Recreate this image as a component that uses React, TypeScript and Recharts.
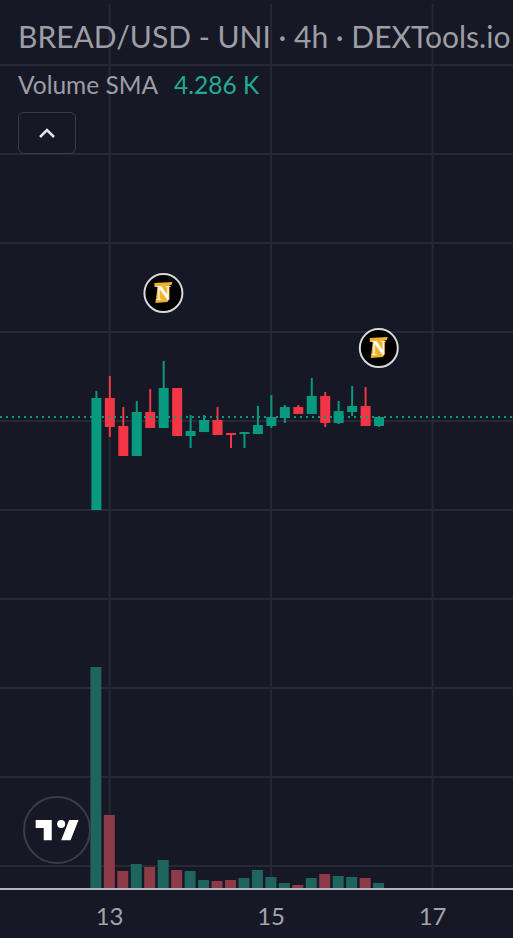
import { Bar, CartesianGrid, Cell, ComposedChart, ReferenceDot, ReferenceLine, XAxis, YAxis } from 'recharts';

const GREEN = '#089981';
const RED = '#f23645';
const VOL_GREEN = '#1f655f';
const VOL_RED = '#8f3a49';
const BG = '#161825';
const GRID = '#262833';
const TEXT = '#9d9ea5';
const FONT = 'Lato, sans-serif';

// 4h candles, price in chart units since the price scale is not visible
const opens = [40, 52.58, 49.44, 46.07, 51.01, 49.21, 53.71, 48.31, 48.76, 50.11, 48.65, 48.54, 48.54, 49.44, 50.34, 51.57, 50.79, 52.81, 49.78, 51.01, 51.69, 49.44];
const closes = [52.58, 49.33, 46.07, 51.01, 49.21, 53.71, 48.31, 48.88, 50.11, 48.43, 48.43, 48.76, 49.55, 50.45, 51.57, 50.79, 52.81, 49.78, 51.12, 51.69, 49.44, 50.45];
const highs = [53.37, 55.06, 51.57, 52.25, 53.6, 56.74, 53.71, 50.67, 50.67, 51.57, 48.65, 48.76, 51.69, 52.92, 51.8, 51.8, 54.83, 53.26, 52.25, 53.93, 53.82, 50.45];
const lows = [40, 48.2, 46.07, 46.07, 49.21, 49.21, 48.31, 46.97, 48.76, 48.43, 46.97, 46.97, 48.54, 49.21, 49.78, 50.79, 50.79, 49.33, 49.66, 50.56, 49.44, 49.33];
const volumes = [39960, 13320, 3240, 4500, 3960, 5220, 3420, 3240, 1620, 1440, 1620, 1980, 3420, 2160, 1080, 720, 1980, 2700, 2340, 2160, 1980, 1080];

const dayTicks = [1, 13, 25];
const dayLabels = ['13', '15', '17'];
const priceGrid = [0, 10, 20, 30, 40, 50, 60, 70, 80, 90];
const lastPrice = 50.45;
const newsMarkers = [
  { index: 5, price: 64.38 },
  { index: 21, price: 58.2 },
];

const X_DOMAIN = [-7.14, 30.97];
const PRICE_DOMAIN = [-2.584, 96.854];
const VOLUME_DOMAIN = [0, 159300];

const rows = opens.map((open, i) => ({
  index: i,
  open,
  close: closes[i],
  body: [Math.min(open, closes[i]), Math.max(open, closes[i])],
  wick: [lows[i], highs[i]],
  volume: volumes[i],
}));

function NewsMarker({ cx, cy }: { cx?: number; cy?: number }) {
  return (
    <g transform={`translate(${cx},${cy})`}>
      <circle r={19} fill="#000" stroke="#d9d9d9" strokeWidth={2} />
      <path d="M-9 -10 L9 -11 L8 -8 L6 -8 L6 6 L4 9 L-8 10 L-6 -6 L-9 -6 Z" fill="#f0b429" />
      <text x={0} y={7} textAnchor="middle" fontFamily="Liberation Serif, serif" fontWeight={700} fontSize={20} fill="#fff">
        N
      </text>
    </g>
  );
}

export default function App() {
  return (
    <div style={{ position: 'absolute', left: 0, top: 0, width: 513, height: 938, background: BG, overflow: 'hidden', fontFamily: FONT }}>
      <ComposedChart width={513} height={938} data={rows} margin={{ top: 4, right: 0, bottom: 0, left: 0 }}>
        <XAxis
          xAxisId="main"
          dataKey="index"
          type="number"
          domain={X_DOMAIN}
          ticks={dayTicks}
          tickFormatter={(v: number) => dayLabels[dayTicks.indexOf(v)]}
          height={49}
          stroke="#b2b5be"
          strokeWidth={2}
          tickLine={false}
          tickMargin={13}
          tick={{ fill: '#a3a4aa', fontSize: 24, fontFamily: FONT }}
          allowDataOverflow
        />
        <XAxis xAxisId="wick" dataKey="index" type="number" domain={X_DOMAIN} height={0} hide allowDataOverflow />
        <XAxis xAxisId="body" dataKey="index" type="number" domain={X_DOMAIN} height={0} hide allowDataOverflow />
        <YAxis yAxisId="price" domain={PRICE_DOMAIN} hide allowDataOverflow />
        <YAxis yAxisId="volume" domain={VOLUME_DOMAIN} hide allowDataOverflow />

        <CartesianGrid
          xAxisId="main"
          yAxisId="price"
          stroke={GRID}
          strokeWidth={2}
          horizontalValues={priceGrid}
          verticalValues={dayTicks}
        />

        <Bar xAxisId="main" yAxisId="volume" dataKey="volume" barSize={11} isAnimationActive={false}>
          {rows.map((r) => (
            <Cell key={r.index} fill={r.close >= r.open ? VOL_GREEN : VOL_RED} />
          ))}
        </Bar>
        <Bar xAxisId="wick" yAxisId="price" dataKey="wick" barSize={2} isAnimationActive={false}>
          {rows.map((r) => (
            <Cell key={r.index} fill={r.close >= r.open ? GREEN : RED} />
          ))}
        </Bar>
        <Bar xAxisId="body" yAxisId="price" dataKey="body" barSize={10} isAnimationActive={false}>
          {rows.map((r) => (
            <Cell key={r.index} fill={r.close >= r.open ? GREEN : RED} />
          ))}
        </Bar>

        <ReferenceLine xAxisId="main" yAxisId="price" y={lastPrice} stroke={GREEN} strokeWidth={2} strokeDasharray="2 4" />
        {newsMarkers.map((m) => (
          <ReferenceDot key={m.index} xAxisId="main" yAxisId="price" x={m.index} y={m.price} r={19} shape={<NewsMarker />} />
        ))}
      </ComposedChart>

      {/* legend over the plot */}
      <div style={{ position: 'absolute', left: 18, top: 14, fontSize: 30, lineHeight: '44px', color: TEXT, whiteSpace: 'nowrap' }}>
        BREAD/USD - UNI · 4h · DEXTools.io
      </div>
      <div style={{ position: 'absolute', left: 18, top: 67, fontSize: 24.5, lineHeight: '36px', color: TEXT, whiteSpace: 'nowrap' }}>
        Volume SMA<span style={{ color: '#22ab94', marginLeft: 16 }}>4.286 K</span>
      </div>
      <div style={{ position: 'absolute', left: 18, top: 112, width: 56, height: 40, border: '1.5px solid #3a3d49', borderRadius: 6 }}>
        <svg width={56} height={40} style={{ display: 'block' }}>
          <path d="M21 24 L28 17 L35 24" fill="none" stroke="#e6e6e8" strokeWidth={2.5} />
        </svg>
      </div>

      {/* TradingView badge */}
      <svg width={70} height={70} style={{ position: 'absolute', left: 22, top: 795 }}>
        <circle cx={35} cy={35} r={33} fill={BG} stroke="#3a3d49" strokeWidth={2} />
        <path
          transform="translate(11,17) scale(1.34)"
          d="M14 6H2v6h6v9h6V6Zm14 15h-7l6-15h7l-6 15Zm-7-9a3 3 0 1 0 0-6 3 3 0 0 0 0 6Z"
          fill="#fff"
        />
      </svg>
    </div>
  );
}
